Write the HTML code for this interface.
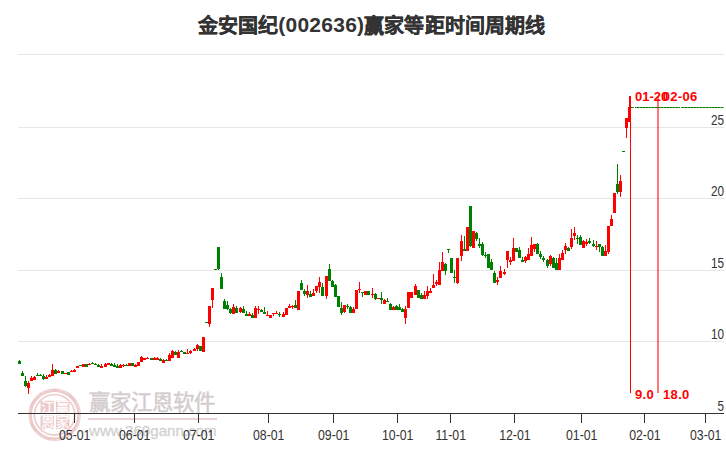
<!DOCTYPE html>
<html lang="zh-CN"><head><meta charset="utf-8">
<style>
html,body{margin:0;padding:0;background:#fff;width:726px;height:450px;overflow:hidden}
body{position:relative;font-family:"Liberation Sans",sans-serif}
#title{position:absolute;left:0;top:13.3px;width:743px;text-align:center;font-size:20px;font-weight:900;color:#333;line-height:26px;white-space:nowrap}
svg{position:absolute;left:0;top:0}
.cj{-webkit-text-stroke:0.3px #333;letter-spacing:0.08px}
.dg{font-size:21px;position:relative;top:-1.3px;letter-spacing:0.25px}
</style></head><body>
<svg width="726" height="450" viewBox="0 0 726 450">
<g stroke="#e6e6e6" stroke-width="1">
<line x1="18" y1="54.5" x2="724" y2="54.5"/>
<line x1="18" y1="127.5" x2="724" y2="127.5"/>
<line x1="18" y1="198.5" x2="724" y2="198.5"/>
<line x1="18" y1="270.5" x2="724" y2="270.5"/>
<line x1="18" y1="341.5" x2="724" y2="341.5"/>
</g>
<g id="wm">
<circle cx="54.6" cy="414.8" r="24.5" fill="none" stroke="#ecc8c8" stroke-width="3.4"/>
<circle cx="54.6" cy="414.8" r="25.2" fill="none" stroke="#fff" stroke-width="0.5" stroke-dasharray="14 9 20 6 11 12" opacity="0.8"/>
<circle cx="54.6" cy="414.8" r="20.2" fill="none" stroke="#efd0d0" stroke-width="1.8"/>
<rect x="40.5" y="400.8" width="13.4" height="13.2" fill="#edc9c9"/>
<rect x="56" y="400.8" width="13.4" height="13.2" fill="#edc9c9"/>
<rect x="40.5" y="415.6" width="13.4" height="13.4" fill="#edc9c9"/>
<rect x="56" y="415.6" width="13.4" height="13.4" fill="#edc9c9"/>
<g fill="#fff" font-size="13.5" text-anchor="middle" stroke="#fff" stroke-width="0.25">
<text x="47.2" y="412.3">江</text><text x="62.7" y="412.3">赢</text>
<text x="47.2" y="427.3">恩</text><text x="62.7" y="427.3">家</text>
</g>
<text x="88.7" y="409.5" font-size="21.4" fill="#d3cdcd" stroke="#d3cdcd" stroke-width="0.5">赢家江恩软件</text>
<rect x="88" y="418" width="129" height="2" fill="#ecd2d2"/>
<text x="89" y="435.5" font-size="15.1" fill="#d2d2d2" stroke="#d2d2d2" stroke-width="0.3">www.360gann.com</text>
</g>
<g stroke="#333" stroke-width="1">
<line x1="18" y1="413.5" x2="724" y2="413.5"/>
</g>
<g font-family="Liberation Sans" font-size="14" fill="#333" text-anchor="end">
<text transform="translate(724,125) scale(0.84,1)">25</text>
<text transform="translate(724,196) scale(0.84,1)">20</text>
<text transform="translate(724,268) scale(0.84,1)">15</text>
<text transform="translate(724,339) scale(0.84,1)">10</text>
<text transform="translate(724,411) scale(0.84,1)">5</text>
</g>
<g stroke="#333" stroke-width="1">
<line x1="74.5" y1="414" x2="74.5" y2="423"/>
<line x1="134.5" y1="414" x2="134.5" y2="423"/>
<line x1="198.5" y1="414" x2="198.5" y2="423"/>
<line x1="268.5" y1="414" x2="268.5" y2="423"/>
<line x1="333.5" y1="414" x2="333.5" y2="423"/>
<line x1="397.5" y1="414" x2="397.5" y2="423"/>
<line x1="450.5" y1="414" x2="450.5" y2="423"/>
<line x1="514.5" y1="414" x2="514.5" y2="423"/>
<line x1="581.5" y1="414" x2="581.5" y2="423"/>
<line x1="644.5" y1="414" x2="644.5" y2="423"/>
<line x1="705.5" y1="414" x2="705.5" y2="423"/>
</g>
<g font-family="Liberation Sans" font-size="14" fill="#333" text-anchor="middle">
<text transform="translate(74.7,440) scale(0.88,1)">05-01</text>
<text transform="translate(134.7,440) scale(0.88,1)">06-01</text>
<text transform="translate(198.7,440) scale(0.88,1)">07-01</text>
<text transform="translate(268.7,440) scale(0.88,1)">08-01</text>
<text transform="translate(333.7,440) scale(0.88,1)">09-01</text>
<text transform="translate(397.7,440) scale(0.88,1)">10-01</text>
<text transform="translate(450.7,440) scale(0.88,1)">11-01</text>
<text transform="translate(514.9,440) scale(0.88,1)">12-01</text>
<text transform="translate(581.7,440) scale(0.88,1)">01-01</text>
<text transform="translate(644.9,440) scale(0.88,1)">02-01</text>
<text transform="translate(705.7,440) scale(0.88,1)">03-01</text>
</g>
<g><rect x="18" y="361" width="3" height="3" fill="#008000"/>
<rect x="19" y="360" width="1" height="4" fill="#008000"/>
<rect x="21" y="373" width="3" height="3" fill="#008000"/>
<rect x="22" y="371" width="1" height="5" fill="#008000"/>
<rect x="24" y="381" width="3" height="5" fill="#008000"/>
<rect x="25" y="376" width="1" height="11" fill="#008000"/>
<rect x="27" y="383" width="3" height="5" fill="#f00"/>
<rect x="28" y="381" width="1" height="13" fill="#f00"/>
<rect x="30" y="378" width="3" height="3" fill="#f00"/>
<rect x="31" y="376" width="1" height="5" fill="#f00"/>
<rect x="33" y="377" width="3" height="3" fill="#f00"/>
<rect x="34" y="376" width="1" height="4" fill="#f00"/>
<rect x="36" y="375" width="3" height="1" fill="#008000"/>
<rect x="37" y="373" width="1" height="3" fill="#008000"/>
<rect x="39" y="375" width="3" height="1" fill="#008000"/>
<rect x="40" y="374" width="1" height="2" fill="#008000"/>
<rect x="42" y="376" width="3" height="3" fill="#008000"/>
<rect x="43" y="374" width="1" height="6" fill="#008000"/>
<rect x="45" y="377" width="3" height="2" fill="#f00"/>
<rect x="46" y="375" width="1" height="4" fill="#f00"/>
<rect x="48" y="375" width="3" height="2" fill="#f00"/>
<rect x="49" y="374" width="1" height="3" fill="#f00"/>
<rect x="51" y="370" width="3" height="6" fill="#f00"/>
<rect x="52" y="364" width="1" height="12" fill="#f00"/>
<rect x="54" y="370" width="3" height="4" fill="#008000"/>
<rect x="55" y="369" width="1" height="5" fill="#008000"/>
<rect x="57" y="371" width="3" height="2" fill="#f00"/>
<rect x="58" y="370" width="1" height="3" fill="#f00"/>
<rect x="61" y="371" width="3" height="3" fill="#008000"/>
<rect x="64" y="373" width="3" height="1" fill="#f00"/>
<rect x="67" y="372" width="3" height="3" fill="#008000"/>
<rect x="70" y="371" width="3" height="1" fill="#f00"/>
<rect x="71" y="370" width="1" height="2" fill="#f00"/>
<rect x="73" y="370" width="3" height="2" fill="#f00"/>
<rect x="74" y="369" width="1" height="3" fill="#f00"/>
<rect x="76" y="366" width="3" height="2" fill="#f00"/>
<rect x="79" y="365" width="3" height="1" fill="#008000"/>
<rect x="82" y="364" width="3" height="3" fill="#f00"/>
<rect x="85" y="364" width="3" height="3" fill="#008000"/>
<rect x="88" y="364" width="3" height="1" fill="#f00"/>
<rect x="89" y="363" width="1" height="1" fill="#f00"/>
<rect x="91" y="363" width="3" height="1" fill="#008000"/>
<rect x="92" y="362" width="1" height="2" fill="#008000"/>
<rect x="94" y="364" width="3" height="1" fill="#008000"/>
<rect x="95" y="363" width="1" height="1" fill="#008000"/>
<rect x="97" y="365" width="3" height="2" fill="#008000"/>
<rect x="98" y="364" width="1" height="3" fill="#008000"/>
<rect x="100" y="366" width="3" height="2" fill="#f00"/>
<rect x="101" y="364" width="1" height="4" fill="#f00"/>
<rect x="104" y="364" width="3" height="3" fill="#f00"/>
<rect x="105" y="363" width="1" height="4" fill="#f00"/>
<rect x="107" y="363" width="3" height="2" fill="#f00"/>
<rect x="110" y="364" width="3" height="2" fill="#008000"/>
<rect x="111" y="363" width="1" height="3" fill="#008000"/>
<rect x="113" y="365" width="3" height="2" fill="#008000"/>
<rect x="114" y="363" width="1" height="4" fill="#008000"/>
<rect x="116" y="366" width="3" height="2" fill="#008000"/>
<rect x="117" y="364" width="1" height="4" fill="#008000"/>
<rect x="119" y="365" width="3" height="3" fill="#f00"/>
<rect x="120" y="364" width="1" height="4" fill="#f00"/>
<rect x="122" y="365" width="3" height="1" fill="#f00"/>
<rect x="123" y="364" width="1" height="3" fill="#f00"/>
<rect x="125" y="365" width="3" height="1" fill="#008000"/>
<rect x="126" y="364" width="1" height="2" fill="#008000"/>
<rect x="128" y="363" width="3" height="3" fill="#f00"/>
<rect x="131" y="363" width="3" height="3" fill="#008000"/>
<rect x="134" y="365" width="3" height="2" fill="#f00"/>
<rect x="135" y="364" width="1" height="3" fill="#f00"/>
<rect x="137" y="362" width="3" height="4" fill="#f00"/>
<rect x="140" y="357" width="3" height="5" fill="#f00"/>
<rect x="141" y="356" width="1" height="6" fill="#f00"/>
<rect x="143" y="358" width="3" height="2" fill="#f00"/>
<rect x="146" y="358" width="3" height="1" fill="#f00"/>
<rect x="147" y="357" width="1" height="2" fill="#f00"/>
<rect x="150" y="358" width="3" height="2" fill="#008000"/>
<rect x="153" y="358" width="3" height="2" fill="#f00"/>
<rect x="154" y="357" width="1" height="3" fill="#f00"/>
<rect x="156" y="358" width="3" height="2" fill="#f00"/>
<rect x="157" y="357" width="1" height="3" fill="#f00"/>
<rect x="159" y="359" width="3" height="2" fill="#008000"/>
<rect x="160" y="358" width="1" height="3" fill="#008000"/>
<rect x="162" y="360" width="3" height="3" fill="#f00"/>
<rect x="163" y="359" width="1" height="4" fill="#f00"/>
<rect x="165" y="360" width="3" height="1" fill="#008000"/>
<rect x="166" y="359" width="1" height="2" fill="#008000"/>
<rect x="168" y="355" width="3" height="6" fill="#f00"/>
<rect x="169" y="353" width="1" height="8" fill="#f00"/>
<rect x="171" y="351" width="3" height="7" fill="#f00"/>
<rect x="172" y="350" width="1" height="8" fill="#f00"/>
<rect x="174" y="352" width="3" height="3" fill="#008000"/>
<rect x="175" y="351" width="1" height="4" fill="#008000"/>
<rect x="177" y="352" width="3" height="6" fill="#f00"/>
<rect x="178" y="350" width="1" height="8" fill="#f00"/>
<rect x="180" y="351" width="3" height="1" fill="#008000"/>
<rect x="181" y="350" width="1" height="2" fill="#008000"/>
<rect x="183" y="352" width="3" height="2" fill="#008000"/>
<rect x="186" y="353" width="3" height="1" fill="#f00"/>
<rect x="187" y="349" width="1" height="5" fill="#f00"/>
<rect x="189" y="351" width="3" height="2" fill="#f00"/>
<rect x="190" y="350" width="1" height="4" fill="#f00"/>
<rect x="193" y="349" width="3" height="2" fill="#f00"/>
<rect x="194" y="348" width="1" height="3" fill="#f00"/>
<rect x="196" y="345" width="3" height="4" fill="#f00"/>
<rect x="197" y="344" width="1" height="7" fill="#f00"/>
<rect x="199" y="346" width="3" height="5" fill="#008000"/>
<rect x="202" y="337" width="3" height="15" fill="#f00"/>
<rect x="205" y="322" width="3" height="1" fill="#008000"/>
<rect x="208" y="306" width="3" height="18" fill="#f00"/>
<rect x="209" y="306" width="1" height="21" fill="#f00"/>
<rect x="211" y="288" width="3" height="12" fill="#f00"/>
<rect x="212" y="288" width="1" height="20" fill="#f00"/>
<rect x="214" y="269" width="3" height="1" fill="#008000"/>
<rect x="217" y="247" width="3" height="22" fill="#008000"/>
<rect x="218" y="247" width="1" height="23" fill="#008000"/>
<rect x="220" y="277" width="3" height="12" fill="#008000"/>
<rect x="221" y="273" width="1" height="16" fill="#008000"/>
<rect x="223" y="301" width="3" height="8" fill="#008000"/>
<rect x="224" y="299" width="1" height="10" fill="#008000"/>
<rect x="226" y="305" width="3" height="4" fill="#008000"/>
<rect x="227" y="301" width="1" height="9" fill="#008000"/>
<rect x="229" y="309" width="3" height="4" fill="#008000"/>
<rect x="230" y="308" width="1" height="6" fill="#008000"/>
<rect x="232" y="307" width="3" height="7" fill="#f00"/>
<rect x="233" y="304" width="1" height="10" fill="#f00"/>
<rect x="235" y="308" width="3" height="5" fill="#008000"/>
<rect x="236" y="306" width="1" height="7" fill="#008000"/>
<rect x="239" y="308" width="3" height="4" fill="#f00"/>
<rect x="240" y="307" width="1" height="6" fill="#f00"/>
<rect x="242" y="309" width="3" height="4" fill="#008000"/>
<rect x="243" y="306" width="1" height="7" fill="#008000"/>
<rect x="245" y="314" width="3" height="2" fill="#008000"/>
<rect x="246" y="311" width="1" height="5" fill="#008000"/>
<rect x="248" y="314" width="3" height="2" fill="#f00"/>
<rect x="249" y="312" width="1" height="4" fill="#f00"/>
<rect x="251" y="315" width="3" height="3" fill="#008000"/>
<rect x="252" y="313" width="1" height="5" fill="#008000"/>
<rect x="254" y="308" width="3" height="10" fill="#f00"/>
<rect x="255" y="306" width="1" height="12" fill="#f00"/>
<rect x="257" y="309" width="3" height="1" fill="#f00"/>
<rect x="258" y="306" width="1" height="8" fill="#f00"/>
<rect x="260" y="310" width="3" height="2" fill="#008000"/>
<rect x="261" y="309" width="1" height="3" fill="#008000"/>
<rect x="263" y="312" width="3" height="2" fill="#008000"/>
<rect x="264" y="307" width="1" height="7" fill="#008000"/>
<rect x="266" y="315" width="3" height="1" fill="#f00"/>
<rect x="267" y="311" width="1" height="5" fill="#f00"/>
<rect x="269" y="315" width="3" height="3" fill="#f00"/>
<rect x="272" y="313" width="3" height="1" fill="#f00"/>
<rect x="273" y="313" width="1" height="3" fill="#f00"/>
<rect x="275" y="313" width="3" height="1" fill="#f00"/>
<rect x="276" y="311" width="1" height="3" fill="#f00"/>
<rect x="278" y="314" width="3" height="1" fill="#008000"/>
<rect x="279" y="312" width="1" height="5" fill="#008000"/>
<rect x="282" y="314" width="3" height="3" fill="#f00"/>
<rect x="283" y="312" width="1" height="5" fill="#f00"/>
<rect x="285" y="308" width="3" height="7" fill="#f00"/>
<rect x="288" y="306" width="3" height="2" fill="#f00"/>
<rect x="289" y="304" width="1" height="4" fill="#f00"/>
<rect x="291" y="306" width="3" height="1" fill="#f00"/>
<rect x="292" y="305" width="1" height="4" fill="#f00"/>
<rect x="294" y="305" width="3" height="3" fill="#008000"/>
<rect x="295" y="300" width="1" height="8" fill="#008000"/>
<rect x="297" y="291" width="3" height="19" fill="#f00"/>
<rect x="300" y="283" width="3" height="7" fill="#008000"/>
<rect x="301" y="280" width="1" height="10" fill="#008000"/>
<rect x="303" y="291" width="3" height="3" fill="#008000"/>
<rect x="304" y="289" width="1" height="7" fill="#008000"/>
<rect x="306" y="291" width="3" height="4" fill="#f00"/>
<rect x="307" y="285" width="1" height="13" fill="#f00"/>
<rect x="309" y="294" width="3" height="3" fill="#008000"/>
<rect x="310" y="291" width="1" height="6" fill="#008000"/>
<rect x="312" y="293" width="3" height="3" fill="#f00"/>
<rect x="313" y="289" width="1" height="7" fill="#f00"/>
<rect x="315" y="286" width="3" height="5" fill="#f00"/>
<rect x="316" y="286" width="1" height="7" fill="#f00"/>
<rect x="318" y="282" width="3" height="5" fill="#f00"/>
<rect x="319" y="277" width="1" height="16" fill="#f00"/>
<rect x="321" y="287" width="3" height="9" fill="#008000"/>
<rect x="322" y="283" width="1" height="13" fill="#008000"/>
<rect x="325" y="276" width="3" height="20" fill="#f00"/>
<rect x="326" y="276" width="1" height="23" fill="#f00"/>
<rect x="328" y="269" width="3" height="12" fill="#008000"/>
<rect x="329" y="264" width="1" height="17" fill="#008000"/>
<rect x="331" y="281" width="3" height="6" fill="#008000"/>
<rect x="332" y="280" width="1" height="7" fill="#008000"/>
<rect x="334" y="285" width="3" height="12" fill="#008000"/>
<rect x="335" y="284" width="1" height="13" fill="#008000"/>
<rect x="337" y="296" width="3" height="11" fill="#008000"/>
<rect x="340" y="308" width="3" height="5" fill="#008000"/>
<rect x="341" y="302" width="1" height="13" fill="#008000"/>
<rect x="343" y="305" width="3" height="7" fill="#f00"/>
<rect x="344" y="305" width="1" height="8" fill="#f00"/>
<rect x="346" y="306" width="3" height="1" fill="#008000"/>
<rect x="347" y="304" width="1" height="5" fill="#008000"/>
<rect x="349" y="307" width="3" height="6" fill="#008000"/>
<rect x="350" y="306" width="1" height="7" fill="#008000"/>
<rect x="352" y="309" width="3" height="4" fill="#f00"/>
<rect x="353" y="307" width="1" height="6" fill="#f00"/>
<rect x="355" y="290" width="3" height="19" fill="#f00"/>
<rect x="358" y="289" width="3" height="1" fill="#f00"/>
<rect x="359" y="282" width="1" height="11" fill="#f00"/>
<rect x="361" y="292" width="3" height="1" fill="#008000"/>
<rect x="362" y="292" width="1" height="5" fill="#008000"/>
<rect x="364" y="291" width="3" height="4" fill="#f00"/>
<rect x="367" y="291" width="3" height="4" fill="#008000"/>
<rect x="371" y="294" width="3" height="1" fill="#f00"/>
<rect x="372" y="288" width="1" height="10" fill="#f00"/>
<rect x="374" y="294" width="3" height="5" fill="#008000"/>
<rect x="375" y="293" width="1" height="7" fill="#008000"/>
<rect x="377" y="298" width="3" height="1" fill="#f00"/>
<rect x="380" y="298" width="3" height="2" fill="#008000"/>
<rect x="381" y="292" width="1" height="12" fill="#008000"/>
<rect x="383" y="300" width="3" height="4" fill="#f00"/>
<rect x="384" y="299" width="1" height="5" fill="#f00"/>
<rect x="386" y="301" width="3" height="1" fill="#008000"/>
<rect x="387" y="298" width="1" height="4" fill="#008000"/>
<rect x="389" y="304" width="3" height="6" fill="#008000"/>
<rect x="390" y="303" width="1" height="7" fill="#008000"/>
<rect x="392" y="307" width="3" height="3" fill="#f00"/>
<rect x="393" y="306" width="1" height="4" fill="#f00"/>
<rect x="395" y="306" width="3" height="4" fill="#008000"/>
<rect x="396" y="305" width="1" height="5" fill="#008000"/>
<rect x="398" y="307" width="3" height="3" fill="#008000"/>
<rect x="399" y="304" width="1" height="6" fill="#008000"/>
<rect x="401" y="309" width="3" height="3" fill="#008000"/>
<rect x="402" y="308" width="1" height="4" fill="#008000"/>
<rect x="404" y="309" width="3" height="9" fill="#f00"/>
<rect x="405" y="306" width="1" height="18" fill="#f00"/>
<rect x="407" y="292" width="3" height="16" fill="#f00"/>
<rect x="410" y="292" width="3" height="6" fill="#f00"/>
<rect x="414" y="286" width="3" height="9" fill="#f00"/>
<rect x="415" y="284" width="1" height="11" fill="#f00"/>
<rect x="417" y="290" width="3" height="8" fill="#008000"/>
<rect x="420" y="295" width="3" height="4" fill="#008000"/>
<rect x="421" y="293" width="1" height="6" fill="#008000"/>
<rect x="423" y="295" width="3" height="4" fill="#f00"/>
<rect x="424" y="291" width="1" height="8" fill="#f00"/>
<rect x="426" y="291" width="3" height="5" fill="#f00"/>
<rect x="427" y="286" width="1" height="13" fill="#f00"/>
<rect x="429" y="291" width="3" height="2" fill="#f00"/>
<rect x="430" y="288" width="1" height="5" fill="#f00"/>
<rect x="432" y="285" width="3" height="3" fill="#f00"/>
<rect x="433" y="274" width="1" height="14" fill="#f00"/>
<rect x="435" y="282" width="3" height="2" fill="#f00"/>
<rect x="436" y="280" width="1" height="6" fill="#f00"/>
<rect x="438" y="270" width="3" height="15" fill="#f00"/>
<rect x="439" y="262" width="1" height="23" fill="#f00"/>
<rect x="441" y="262" width="3" height="9" fill="#f00"/>
<rect x="442" y="252" width="1" height="19" fill="#f00"/>
<rect x="444" y="264" width="3" height="7" fill="#008000"/>
<rect x="445" y="263" width="1" height="12" fill="#008000"/>
<rect x="447" y="249" width="3" height="1" fill="#008000"/>
<rect x="448" y="249" width="1" height="4" fill="#008000"/>
<rect x="450" y="258" width="3" height="15" fill="#008000"/>
<rect x="453" y="277" width="3" height="1" fill="#008000"/>
<rect x="454" y="270" width="1" height="13" fill="#008000"/>
<rect x="456" y="258" width="3" height="25" fill="#f00"/>
<rect x="457" y="258" width="1" height="26" fill="#f00"/>
<rect x="460" y="241" width="3" height="15" fill="#f00"/>
<rect x="461" y="235" width="1" height="26" fill="#f00"/>
<rect x="463" y="249" width="3" height="2" fill="#008000"/>
<rect x="464" y="236" width="1" height="15" fill="#008000"/>
<rect x="466" y="227" width="3" height="24" fill="#f00"/>
<rect x="469" y="206" width="3" height="40" fill="#008000"/>
<rect x="470" y="206" width="1" height="41" fill="#008000"/>
<rect x="472" y="231" width="3" height="17" fill="#f00"/>
<rect x="475" y="233" width="3" height="6" fill="#008000"/>
<rect x="476" y="232" width="1" height="9" fill="#008000"/>
<rect x="478" y="244" width="3" height="2" fill="#008000"/>
<rect x="479" y="238" width="1" height="10" fill="#008000"/>
<rect x="481" y="244" width="3" height="11" fill="#008000"/>
<rect x="482" y="242" width="1" height="14" fill="#008000"/>
<rect x="484" y="255" width="3" height="1" fill="#008000"/>
<rect x="485" y="252" width="1" height="6" fill="#008000"/>
<rect x="487" y="254" width="3" height="14" fill="#008000"/>
<rect x="490" y="262" width="3" height="8" fill="#008000"/>
<rect x="491" y="259" width="1" height="11" fill="#008000"/>
<rect x="493" y="273" width="3" height="10" fill="#008000"/>
<rect x="494" y="271" width="1" height="12" fill="#008000"/>
<rect x="496" y="280" width="3" height="2" fill="#f00"/>
<rect x="497" y="277" width="1" height="8" fill="#f00"/>
<rect x="499" y="271" width="3" height="7" fill="#f00"/>
<rect x="500" y="266" width="1" height="12" fill="#f00"/>
<rect x="503" y="272" width="3" height="2" fill="#f00"/>
<rect x="504" y="269" width="1" height="6" fill="#f00"/>
<rect x="506" y="251" width="3" height="9" fill="#f00"/>
<rect x="507" y="251" width="1" height="17" fill="#f00"/>
<rect x="509" y="260" width="3" height="2" fill="#f00"/>
<rect x="510" y="257" width="1" height="8" fill="#f00"/>
<rect x="512" y="248" width="3" height="13" fill="#f00"/>
<rect x="513" y="238" width="1" height="23" fill="#f00"/>
<rect x="515" y="248" width="3" height="4" fill="#008000"/>
<rect x="518" y="250" width="3" height="8" fill="#008000"/>
<rect x="519" y="247" width="1" height="11" fill="#008000"/>
<rect x="521" y="260" width="3" height="2" fill="#008000"/>
<rect x="522" y="257" width="1" height="5" fill="#008000"/>
<rect x="524" y="257" width="3" height="4" fill="#f00"/>
<rect x="525" y="256" width="1" height="7" fill="#f00"/>
<rect x="527" y="254" width="3" height="6" fill="#f00"/>
<rect x="528" y="248" width="1" height="12" fill="#f00"/>
<rect x="530" y="245" width="3" height="11" fill="#f00"/>
<rect x="531" y="237" width="1" height="19" fill="#f00"/>
<rect x="533" y="244" width="3" height="5" fill="#f00"/>
<rect x="534" y="244" width="1" height="8" fill="#f00"/>
<rect x="536" y="244" width="3" height="10" fill="#008000"/>
<rect x="537" y="243" width="1" height="11" fill="#008000"/>
<rect x="539" y="254" width="3" height="3" fill="#008000"/>
<rect x="540" y="251" width="1" height="8" fill="#008000"/>
<rect x="542" y="258" width="3" height="2" fill="#008000"/>
<rect x="543" y="256" width="1" height="6" fill="#008000"/>
<rect x="546" y="260" width="3" height="6" fill="#008000"/>
<rect x="547" y="259" width="1" height="9" fill="#008000"/>
<rect x="549" y="256" width="3" height="8" fill="#f00"/>
<rect x="550" y="255" width="1" height="11" fill="#f00"/>
<rect x="552" y="258" width="3" height="10" fill="#008000"/>
<rect x="553" y="257" width="1" height="11" fill="#008000"/>
<rect x="555" y="263" width="3" height="7" fill="#008000"/>
<rect x="556" y="258" width="1" height="12" fill="#008000"/>
<rect x="558" y="258" width="3" height="12" fill="#f00"/>
<rect x="559" y="254" width="1" height="16" fill="#f00"/>
<rect x="561" y="253" width="3" height="7" fill="#f00"/>
<rect x="562" y="250" width="1" height="10" fill="#f00"/>
<rect x="564" y="246" width="3" height="4" fill="#f00"/>
<rect x="565" y="243" width="1" height="11" fill="#f00"/>
<rect x="567" y="248" width="3" height="3" fill="#008000"/>
<rect x="568" y="247" width="1" height="4" fill="#008000"/>
<rect x="570" y="238" width="3" height="9" fill="#f00"/>
<rect x="571" y="229" width="1" height="20" fill="#f00"/>
<rect x="573" y="233" width="3" height="3" fill="#f00"/>
<rect x="574" y="227" width="1" height="13" fill="#f00"/>
<rect x="576" y="238" width="3" height="1" fill="#008000"/>
<rect x="577" y="235" width="1" height="9" fill="#008000"/>
<rect x="579" y="237" width="3" height="8" fill="#008000"/>
<rect x="580" y="235" width="1" height="10" fill="#008000"/>
<rect x="582" y="241" width="3" height="7" fill="#f00"/>
<rect x="583" y="240" width="1" height="8" fill="#f00"/>
<rect x="585" y="242" width="3" height="2" fill="#f00"/>
<rect x="586" y="239" width="1" height="7" fill="#f00"/>
<rect x="588" y="241" width="3" height="2" fill="#008000"/>
<rect x="589" y="238" width="1" height="6" fill="#008000"/>
<rect x="592" y="244" width="3" height="2" fill="#008000"/>
<rect x="593" y="240" width="1" height="7" fill="#008000"/>
<rect x="595" y="246" width="3" height="1" fill="#f00"/>
<rect x="596" y="241" width="1" height="9" fill="#f00"/>
<rect x="598" y="244" width="3" height="3" fill="#008000"/>
<rect x="599" y="244" width="1" height="8" fill="#008000"/>
<rect x="601" y="247" width="3" height="9" fill="#008000"/>
<rect x="602" y="246" width="1" height="10" fill="#008000"/>
<rect x="604" y="251" width="3" height="5" fill="#f00"/>
<rect x="605" y="245" width="1" height="11" fill="#f00"/>
<rect x="607" y="226" width="3" height="26" fill="#f00"/>
<rect x="608" y="226" width="1" height="28" fill="#f00"/>
<rect x="610" y="219" width="3" height="7" fill="#f00"/>
<rect x="611" y="215" width="1" height="11" fill="#f00"/>
<rect x="613" y="193" width="3" height="20" fill="#f00"/>
<rect x="616" y="184" width="3" height="8" fill="#008000"/>
<rect x="617" y="164" width="1" height="30" fill="#008000"/>
<rect x="619" y="181" width="3" height="11" fill="#f00"/>
<rect x="620" y="175" width="1" height="22" fill="#f00"/>
<rect x="622" y="151" width="3" height="1" fill="#008000"/>
<rect x="625" y="118" width="3" height="10" fill="#f00"/>
<rect x="626" y="118" width="1" height="20" fill="#f00"/>
<rect x="628" y="107" width="3" height="15" fill="#f00"/>
<rect x="629" y="96" width="1" height="26" fill="#f00"/></g>
<line x1="631" y1="107.5" x2="723.5" y2="107.5" stroke="#5aa05a" stroke-width="1"/>
<line x1="631" y1="107.5" x2="723.5" y2="107.5" stroke="#007a00" stroke-width="1" stroke-dasharray="2,1"/>
<rect x="634" y="107" width="1" height="1" fill="#fff"/><rect x="680" y="107" width="1" height="1" fill="#fff"/>
<line x1="630.5" y1="96" x2="630.5" y2="393" stroke="#f00" stroke-width="1"/>
<rect x="657" y="96" width="2" height="297" fill="#f00" fill-opacity="0.53"/>
<g font-family="Liberation Sans" font-size="13" font-weight="bold" fill="#f00" letter-spacing="0.35">
<text x="635" y="101" letter-spacing="0">01-20</text>
<text x="662.7" y="101">02-06</text>
<text x="635" y="399">9.0</text>
<text x="663" y="399">18.0</text>
</g>
</svg>
<div id="title"><span class="cj">金安国纪</span><span class="dg">(002636)</span><span class="cj">赢家等距时间周期线</span></div>
</body></html>
